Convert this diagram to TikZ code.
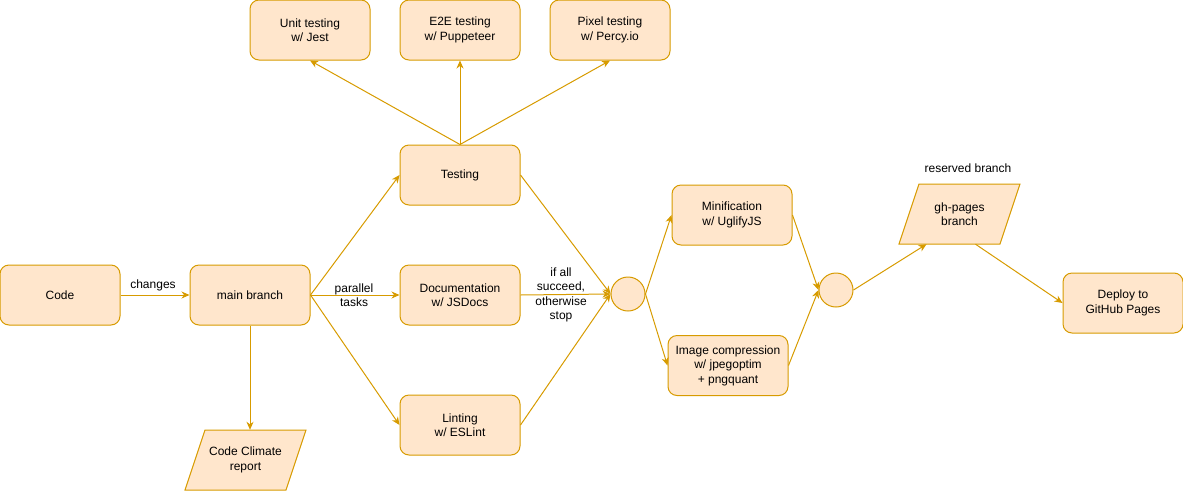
\documentclass[tikz,border=0pt]{standalone}
\usepackage{fontspec}
\setmainfont{Liberation Sans}
\usetikzlibrary{arrows.meta,shapes.geometric}
\definecolor{boxfill}{HTML}{FFE6CC}
\definecolor{boxline}{HTML}{D79B00}
\tikzset{
  box/.style={draw=boxline,fill=boxfill,line width=1pt,rounded corners=9pt,minimum width=120pt,minimum height=60pt,align=center,inner sep=2pt},
  junction/.style={draw=boxline,fill=boxfill,line width=1pt,circle,minimum size=34pt,inner sep=0pt},
  parbody/.style={minimum width=101pt,minimum height=60pt,align=center,inner sep=0pt},
  parshape/.style={draw=boxline,fill=boxfill,line width=1pt},
  conn/.style={draw=boxline,line width=1pt,-{Stealth[length=8pt,width=7pt,inset=2.5pt]}},
  lbl/.style={align=center,inner sep=0pt,text=black}
}
\begin{document}
\begin{tikzpicture}[x=1pt,y=-1pt,font=\fontsize{12}{14.4}\selectfont]
\useasboundingbox (0,0) rectangle (1183,491);
% boxes
\node[box] (code) at (60,295) {Code};
\node[box] (main) at (250,295) {main branch};
\node[box] (test) at (460,175) {Testing};
\node[box] (doc) at (460,295) {Documentation\\w/ JSDocs};
\node[box] (lint) at (460,425) {Linting\\w/ ESLint};
\node[box] (unit) at (310,30) {Unit testing\\w/ Jest};
\node[box] (e2e) at (460,30) {E2E testing\\w/ Puppeteer};
\node[box] (pix) at (610,30) {Pixel testing\\w/ Percy.io};
\node[junction] (c1) at (628,294) {};
\node[box] (mini) at (732,215) {Minification\\w/ UglifyJS};
\node[box] (img) at (728,365.5) {Image compression\\w/ jpegoptim\\+ pngquant};
\node[junction] (c2) at (836,290) {};
\node[box] (deploy) at (1123,303) {Deploy to\\GitHub Pages};
% parallelograms
\coordinate (ghA) at (899,244);
\coordinate (ghB) at (1000,244);
\coordinate (ghC) at (1020,184);
\coordinate (ghD) at (919,184);
\path[parshape] (ghA) -- (ghB) -- (ghC) -- (ghD) -- cycle;
\node[parbody] (gh) at (959.5,214) {gh-pages\\branch};
\coordinate (ccA) at (185,490);
\coordinate (ccB) at (286,490);
\coordinate (ccC) at (306,430);
\coordinate (ccD) at (205,430);
\path[parshape] (ccA) -- (ccB) -- (ccC) -- (ccD) -- cycle;
\node[parbody] (cc) at (245.5,460) {Code Climate\\report};
% connectors
\draw[conn] (code.east) -- (main.west);
\draw[conn] (main.east) -- (test.west);
\draw[conn] (main.east) -- (doc.west);
\draw[conn] (main.east) -- (lint.west);
\draw[conn] (main.south) -- (main.south |- cc.north);
\draw[conn] (test.north) -- (unit.south);
\draw[conn] (test.north) -- (e2e.south);
\draw[conn] (test.north) -- (pix.south);
\draw[conn] (test.east) -- (c1.west);
\draw[conn] (doc.east) -- (c1.west);
\draw[conn] (lint.east) -- (c1.west);
\draw[conn] (c1.east) -- (mini.west);
\draw[conn] (c1.east) -- (img.west);
\draw[conn] (mini.east) -- (c2.west);
\draw[conn] (img.east) -- (c2.west);
\draw[conn] (c2.east) -- ([xshift=-33pt]gh.south);
\draw[conn] ([xshift=16pt]gh.south) -- (deploy.west);
% labels
\node[lbl] (lchanges) at (153,285) {changes};
\node[lbl] (lpar) at (354,295.5) {parallel\\tasks};
\node[lbl] (lif) at (561,295) {if all\\succeed,\\otherwise\\stop};
\node[lbl] (lres) at (968,168) {reserved branch};
\end{tikzpicture}
\end{document}
